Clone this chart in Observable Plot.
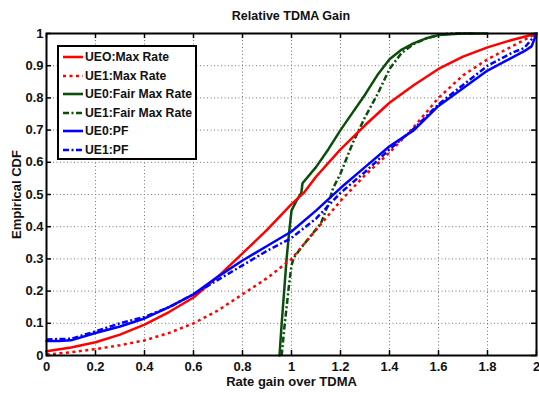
<!DOCTYPE html>
<html>
<head>
<meta charset="utf-8">
<script src="https://cdn.jsdelivr.net/npm/d3@7"></script>
<script src="https://cdn.jsdelivr.net/npm/@observablehq/plot@0.6"></script>
<style>
  html, body { margin: 0; padding: 0; background: #fff; }
  #wrap { position: relative; width: 539px; height: 393px; font-family: "Liberation Sans", Arial, Helvetica, sans-serif; font-weight: bold; }
  #title { position: absolute; left: 0; width: 582px; top: 9px; text-align: center; font-size: 12.5px; color: #111; }
  #legend { position: absolute; left: 57px; top: 45px; width: 136px; height: 111px; border: 2px solid #000; background: #fff; padding-top: 0px; }
  .row { position: absolute; left: 3px; height: 18px; display: flex; align-items: center; font-size: 12.2px; color: #111; white-space: nowrap; }
  .row svg { margin-right: 2px; }
</style>
</head>
<body>
<div id="wrap"><div id="title">Relative TDMA Gain</div><div id="legend"></div></div>
<script>
// ---- data ----
const seriesNames = ["UEO:Max Rate", "UE1:Max Rate", "UE0:Fair Max Rate", "UE1:Fair Max Rate", "UE0:PF", "UE1:PF"];

const ue0MaxX = [0, 0.1, 0.2, 0.3, 0.4, 0.5, 0.6, 0.7, 0.8, 0.9, 1.0, 1.05, 1.1, 1.2, 1.3, 1.4, 1.5, 1.6, 1.7, 1.8, 1.9, 2.0];
const ue0MaxY = [0.013, 0.025, 0.041, 0.065, 0.096, 0.135, 0.18, 0.245, 0.317, 0.39, 0.47, 0.505, 0.555, 0.64, 0.715, 0.785, 0.84, 0.89, 0.928, 0.957, 0.98, 1.0];

const ue1MaxX = [0, 0.1, 0.2, 0.3, 0.4, 0.5, 0.6, 0.7, 0.8, 0.9, 1.0, 1.1, 1.2, 1.3, 1.4, 1.5, 1.6, 1.7, 1.8, 1.9, 2.0];
const ue1MaxY = [0.003, 0.01, 0.02, 0.032, 0.047, 0.07, 0.1, 0.14, 0.19, 0.24, 0.3, 0.39, 0.48, 0.56, 0.63, 0.71, 0.8, 0.87, 0.92, 0.96, 1.0];

const ue0FairX = [0.951, 0.96, 0.97, 0.98, 0.99, 1.0, 1.02, 1.04, 1.045, 1.1, 1.15, 1.2, 1.25, 1.3, 1.35, 1.4, 1.45, 1.5, 1.55, 1.6, 1.7, 1.8];
const ue0FairY = [0, 0.1, 0.2, 0.3, 0.38, 0.45, 0.48, 0.505, 0.535, 0.585, 0.64, 0.7, 0.755, 0.81, 0.87, 0.92, 0.95, 0.97, 0.985, 0.995, 1.0, 1.0];

const ue1FairX = [0.96, 0.97, 0.98, 0.99, 1.0, 1.01, 1.04, 1.08, 1.12, 1.15, 1.17, 1.2, 1.25, 1.3, 1.35, 1.4, 1.45, 1.5, 1.55, 1.6, 1.65, 1.75];
const ue1FairY = [0, 0.08, 0.15, 0.22, 0.28, 0.305, 0.335, 0.373, 0.41, 0.47, 0.52, 0.565, 0.66, 0.74, 0.81, 0.89, 0.94, 0.968, 0.985, 0.995, 1.0, 1.0];

const ue0PfX = [0, 0.05, 0.1, 0.2, 0.3, 0.4, 0.5, 0.6, 0.7, 0.8, 0.9, 1.0, 1.1, 1.2, 1.3, 1.4, 1.5, 1.6, 1.7, 1.8, 1.9, 1.95, 1.98, 2.0];
const ue0PfY = [0.045, 0.045, 0.047, 0.07, 0.09, 0.115, 0.15, 0.19, 0.245, 0.295, 0.34, 0.385, 0.45, 0.52, 0.585, 0.65, 0.7, 0.775, 0.83, 0.885, 0.925, 0.945, 0.96, 1.0];

const ue1PfX = [0, 0.1, 0.2, 0.3, 0.4, 0.5, 0.6, 0.7, 0.8, 0.9, 1.0, 1.1, 1.2, 1.3, 1.4, 1.5, 1.6, 1.7, 1.8, 1.9, 1.95, 2.0];
const ue1PfY = [0.05, 0.052, 0.075, 0.1, 0.12, 0.15, 0.19, 0.235, 0.28, 0.325, 0.365, 0.425, 0.505, 0.57, 0.64, 0.705, 0.78, 0.84, 0.9, 0.94, 0.955, 1.0];

const xTicks = [0, 0.2, 0.4, 0.6, 0.8, 1, 1.2, 1.4, 1.6, 1.8, 2];
const yTicks = [0, 0.1, 0.2, 0.3, 0.4, 0.5, 0.6, 0.7, 0.8, 0.9, 1];

// ---- styles ----
const styles = [
  {stroke: "#ff0000", dash: null},
  {stroke: "#ff0000", dash: "3,3.5"},
  {stroke: "#0b4d0b", dash: null},
  {stroke: "#0b4d0b", dash: "6,2.5,2,2.5"},
  {stroke: "#0000ff", dash: null},
  {stroke: "#0000ff", dash: "6,2.5,2,2.5"}
];
const xs = [ue0MaxX, ue1MaxX, ue0FairX, ue1FairX, ue0PfX, ue1PfX];
const ys = [ue0MaxY, ue1MaxY, ue0FairY, ue1FairY, ue0PfY, ue1PfY];
const series = seriesNames.map((name, i) => xs[i].map((x, j) => ({x, y: ys[i][j], name})));

const W = 539, H = 393;
const mL = 46, mR = 3, mT = 33, mB = 38;
const innerW = W - mL - mR, innerH = H - mT - mB;
const tickLen = 5;

const lineMarks = series.map((d, i) => Plot.line(d, {
  x: "x", y: "y", stroke: styles[i].stroke, strokeWidth: 2.5,
  strokeDasharray: styles[i].dash || undefined, strokeLinejoin: "round", strokeLinecap: styles[i].dash ? "butt" : "round"
}));
// draw order: green first, then red, then blue (blue on top as in the reference)
const order = [2, 3, 0, 1, 4, 5];

const chart = Plot.plot({
  width: W, height: H,
  marginLeft: mL, marginRight: mR, marginTop: mT, marginBottom: mB,
  style: {fontFamily: '"Liberation Sans", Arial, Helvetica, sans-serif', fontSize: "13px", fontWeight: "bold", color: "#111", background: "#fff"},
  x: {domain: [0, 2]},
  y: {domain: [0, 1]},
  marks: [
    Plot.gridX(xTicks.slice(1, -1), {stroke: "#777", strokeOpacity: 1, strokeWidth: 1, strokeDasharray: "1,2.5"}),
    Plot.gridY(yTicks.slice(1, -1), {stroke: "#777", strokeOpacity: 1, strokeWidth: 1, strokeDasharray: "1,2.5"}),
    // inward ticks on all four sides
    Plot.tickX(xTicks, {x: d => d, stroke: "#000", strokeWidth: 1.5, insetTop: innerH - tickLen}),
    Plot.tickX(xTicks, {x: d => d, stroke: "#000", strokeWidth: 1.5, insetBottom: innerH - tickLen}),
    Plot.tickY(yTicks, {y: d => d, stroke: "#000", strokeWidth: 1.5, insetRight: innerW - tickLen}),
    Plot.tickY(yTicks, {y: d => d, stroke: "#000", strokeWidth: 1.5, insetLeft: innerW - tickLen}),
    Plot.axisX(xTicks, {tickSize: 0, tickPadding: 6, tickFormat: d => String(d), label: "Rate gain over TDMA", labelAnchor: "center", labelArrow: "none", labelOffset: 30, fontSize: 13}),
    Plot.axisY(yTicks, {tickSize: 0, tickPadding: 3, tickFormat: d => String(d), label: "Empirical CDF", labelAnchor: "center", labelArrow: "none", labelOffset: 35, fontSize: 13}),
    ...order.map(i => lineMarks[i]),
    Plot.frame({stroke: "#000", strokeWidth: 2})
  ]
});
document.getElementById("wrap").prepend(chart);
chart.style.position = "absolute";
chart.style.left = "0px";
chart.style.top = "0px";
document.getElementById("title").style.zIndex = 2;

// ---- legend ----
const legend = document.getElementById("legend");
legend.style.zIndex = 2;
seriesNames.forEach((name, i) => {
  const row = document.createElement("div");
  row.className = "row";
  row.style.top = (1 + i * 18.6) + "px";
  const ns = "http://www.w3.org/2000/svg";
  const s = document.createElementNS(ns, "svg");
  s.setAttribute("width", 21); s.setAttribute("height", 10);
  const l = document.createElementNS(ns, "line");
  l.setAttribute("x1", 1); l.setAttribute("x2", 21); l.setAttribute("y1", 5); l.setAttribute("y2", 5);
  l.setAttribute("stroke", styles[i].stroke); l.setAttribute("stroke-width", 2.6);
  if (styles[i].dash) l.setAttribute("stroke-dasharray", styles[i].dash);
  s.appendChild(l);
  row.appendChild(s);
  const t = document.createElement("span");
  t.textContent = name;
  row.appendChild(t);
  legend.appendChild(row);
});
</script>
</body>
</html>
